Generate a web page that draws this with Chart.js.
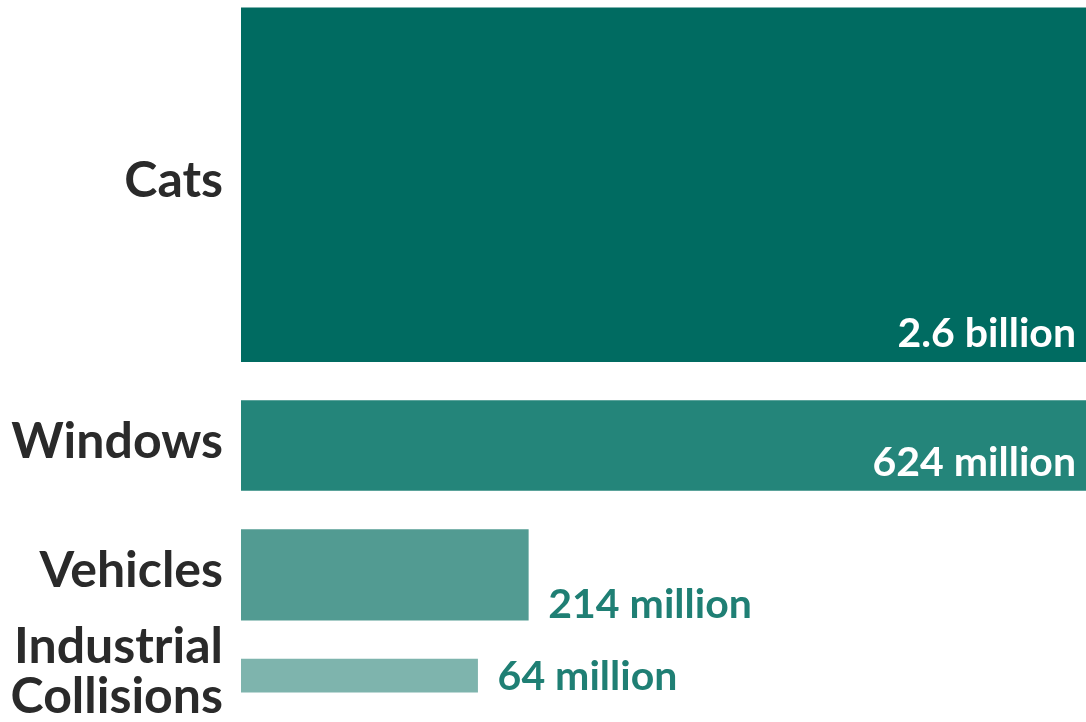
<!DOCTYPE html>
<html>
<head>
<meta charset="utf-8">
<script src="https://cdn.jsdelivr.net/npm/chart.js@4"></script>
<style>
  html, body { margin: 0; padding: 0; background: #fff; }
  #wrap { width: 1086px; height: 722px; position: relative; }
</style>
</head>
<body>
<div id="wrap"><canvas id="c"></canvas></div>
<script>
// ── data ────────────────────────────────────────────────────────────────────
const categories    = ['Cats', 'Windows', 'Vehicles', ['Industrial', 'Collisions']];
const valuesMillion = [2600, 624, 214, 64];
const valueLabels   = ['2.6 billion', '624 million', '214 million', '64 million'];
// bar length on the x axis (plot width = 100); bar area encodes the value
const barLengths    = [106, 100, 34, 28];

// ── look ────────────────────────────────────────────────────────────────────
const barColors = ['#006b61', '#24857a', '#529b92', '#7eb4ad'];
const FONT = 'Lato, "Open Sans", sans-serif';
const X_MAX = 100;
const TOP = 0.55, GAP = 2.7, Y_MAX = 50.07;

// thickness of each bar in y units = value / length
const depths = valuesMillion.map((v, i) => v / barLengths[i]);
const centers = [];
let cursor = TOP;
depths.forEach(d => {
    centers.push(cursor + d / 2);
    cursor += d + GAP;
});

const valueLabelPlugin = {
    id: 'valueLabels',
    afterDatasetsDraw(chart) {
        const ctx = chart.ctx;
        const area = chart.chartArea;
        ctx.save();
        ctx.font = `bold 41px ${FONT}`;
        ctx.textBaseline = 'alphabetic';
        chart.data.datasets.forEach((ds, i) => {
            const bar = chart.getDatasetMeta(i).data[0];
            if (!bar) return;
            const bottom = bar.y + bar.height / 2;
            if (barLengths[i] >= X_MAX) {
                ctx.fillStyle = '#ffffff';
                ctx.textAlign = 'right';
                ctx.fillText(valueLabels[i], Math.min(bar.x, area.right) - 10, bottom - 15);
            } else {
                ctx.fillStyle = '#1f7f74';
                ctx.textAlign = 'left';
                ctx.fillText(valueLabels[i], bar.x + 20, bottom - 2);
            }
        });
        ctx.restore();
    }
};

const chart = new Chart(document.getElementById('c'), {
    type: 'bar',
    data: {
        datasets: categories.map((cat, i) => ({
            label: Array.isArray(cat) ? cat.join(' ') : cat,
            data: [{ x: barLengths[i], y: centers[i] }],
            backgroundColor: barColors[i],
            borderWidth: 0,
            grouped: false,
            barThickness: 10
        }))
    },
    options: {
        indexAxis: 'y',
        responsive: true,
        maintainAspectRatio: false,
        animation: false,
        layout: { padding: 0 },
        plugins: {
            legend: { display: false },
            tooltip: { enabled: false }
        },
        scales: {
            x: {
                type: 'linear',
                min: 0,
                max: X_MAX,
                offset: false,
                display: false
            },
            y: {
                type: 'linear',
                reverse: true,
                min: 0,
                max: Y_MAX,
                offset: false,
                grid: { display: false, drawTicks: false, offset: false },
                border: { display: false },
                afterBuildTicks: scale => {
                    scale.ticks = centers.map(v => ({ value: v }));
                },
                afterFit: scale => {
                    scale.width = 241;
                    scale.paddingTop = 0;
                    scale.paddingBottom = 0;
                },
                ticks: {
                    padding: 18,
                    labelOffset: -4,
                    color: '#2a2a2a',
                    font: { family: FONT, size: 50, weight: 'bold', lineHeight: 1.0 },
                    callback: (value, index) => categories[index]
                }
            }
        }
    },
    plugins: [valueLabelPlugin]
});

// bar thickness in pixels follows the y scale
const yScale = chart.scales.y;
chart.data.datasets.forEach((ds, i) => {
    ds.barThickness = Math.abs(yScale.getPixelForValue(depths[i]) - yScale.getPixelForValue(0));
});
chart.update('none');
</script>
</body>
</html>
